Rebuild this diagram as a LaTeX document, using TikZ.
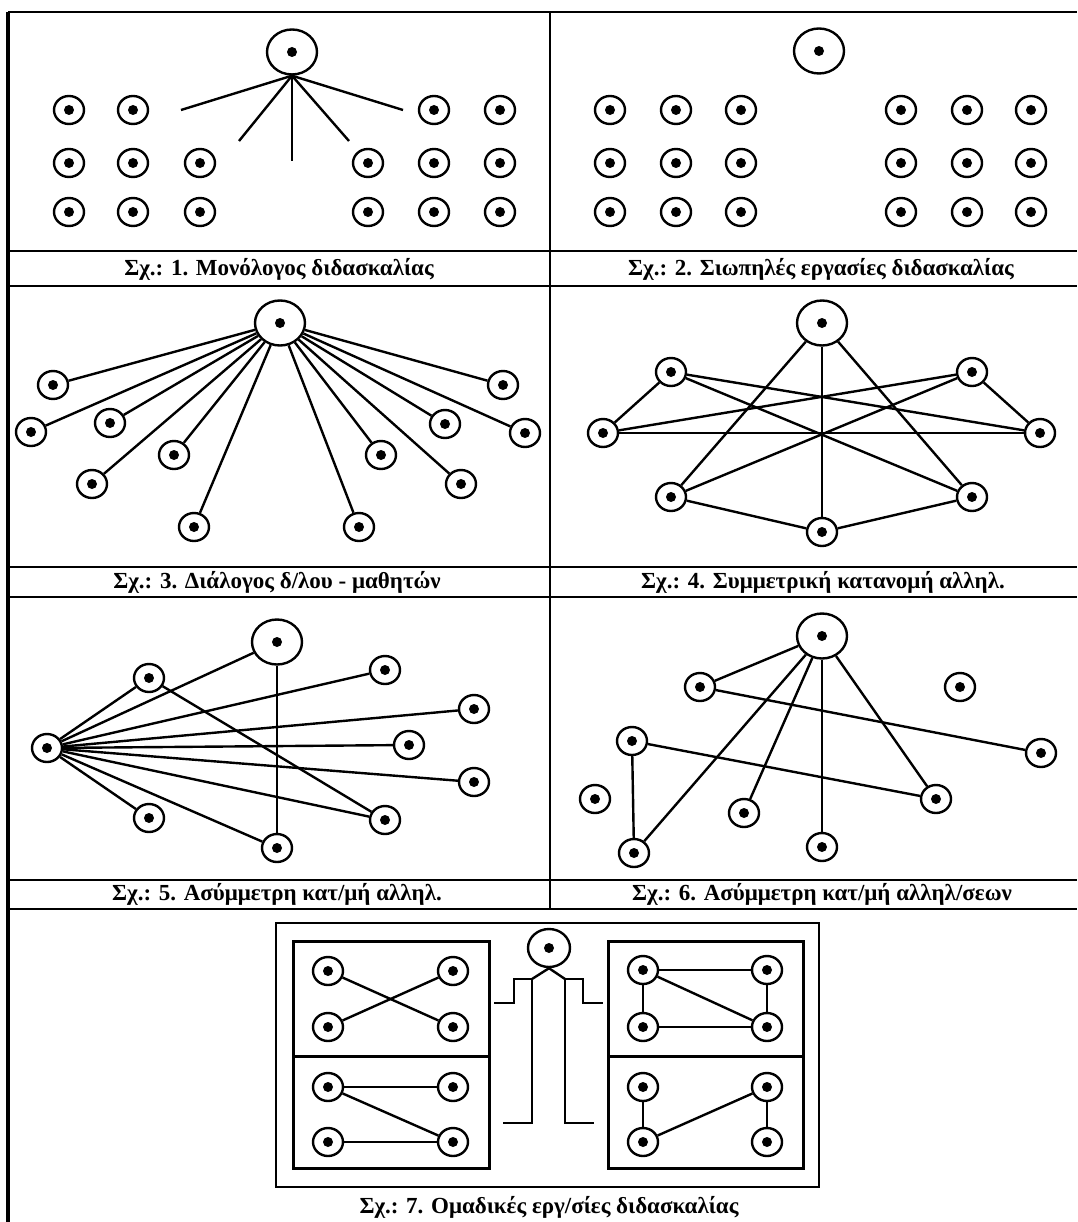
\documentclass[tikz,border=0pt]{standalone}
\usepackage{fontspec}
\setmainfont{Liberation Serif}
\usetikzlibrary{shapes.geometric}
\begin{document}
\begin{tikzpicture}[x=1pt,y=-1pt,
  stu/.style={ellipse,draw,line width=2.4pt,minimum width=30pt,minimum height=28pt,inner sep=0pt,
     path picture={\fill (path picture bounding box.center) circle (5pt);}},
  tch/.style={stu,minimum width=50pt,minimum height=45pt},
  tchs/.style={stu,minimum width=42pt,minimum height=38pt},
  conn/.style={line width=2.4pt},
  frameln/.style={line width=2.6pt},
  inbox/.style={line width=3pt},
  captext/.style={font=\bfseries\fontsize{23}{25}\selectfont,inner sep=0pt}
]
\useasboundingbox (0,0) rectangle (1077,1222);
% ---------- frame ----------
\draw[frameln] (8,12) -- (1077,12);
\draw[line width=4pt] (8,12) -- (8,1222);
\draw[frameln] (550,12) -- (550,909);
\foreach \yy in {251,286,567,597,880,909} \draw[frameln] (8,\yy) -- (1077,\yy);
% ---------- Fig 1 ----------
\node[tch] (f1t) at (292,52) {};
\foreach \x/\n in {69/a,133/b,434/e,500/f} \node[stu] (f1\n1) at (\x,110) {};
\foreach \x/\n in {69/a,133/b,200/c,368/d,434/e,500/f} {
  \node[stu] (f1\n2) at (\x,163) {};
  \node[stu] (f1\n3) at (\x,212) {};
}
\coordinate (f1e1) at (181,110);
\coordinate (f1e2) at (239,141);
\coordinate (f1e3) at (292,161);
\coordinate (f1e4) at (349,141);
\coordinate (f1e5) at (403,110);
\foreach \i in {1,...,5} \draw[conn] (f1t.south) -- (f1e\i);
\node[captext] (c1) at (279,269) {Σχ.: 1. Μονόλογος διδασκαλίας};
% ---------- Fig 2 ----------
\node[tch] (f2t) at (819,51) {};
\foreach \x/\n in {610/a,676/b,741/c,901/d,967/e,1031/f}
  \foreach \y/\m in {110/1,163/2,212/3} \node[stu] (f2\n\m) at (\x,\y) {};
\node[captext] (c2) at (821,269) {Σχ.: 2. Σιωπηλές εργασίες διδασκαλίας};
% ---------- Fig 3 ----------
\node[tch] (f3t) at (280,323) {};
\foreach \i/\x/\y in {1/53/385,2/31/432,3/110/423,4/92/484,5/174/455,6/194/527,
   7/503/385,8/525/433,9/445/424,10/461/484,11/381/455,12/359/527} {
  \node[stu] (f3s\i) at (\x,\y) {};
  \draw[conn] (f3t) -- (f3s\i);
}
\node[captext] (c3) at (277,582) {Σχ.: 3. Διάλογος δ/λου - μαθητών};
% ---------- Fig 4 ----------
\node[tch] (f4t) at (822,323) {};
\node[stu] (f4a) at (671,372) {};
\node[stu] (f4b) at (972,372) {};
\node[stu] (f4l) at (603,433) {};
\node[stu] (f4r) at (1040,433) {};
\node[stu] (f4c) at (671,497) {};
\node[stu] (f4d) at (972,497) {};
\node[stu] (f4e) at (822,532) {};
\foreach \p/\q in {t/c,t/e,t/d,a/l,a/r,a/d,b/r,b/l,b/c,l/r,c/e,d/e}
  \draw[conn] (f4\p) -- (f4\q);
\node[captext] (c4) at (823,582) {Σχ.: 4. Συμμετρική κατανομή αλληλ.};
% ---------- Fig 5 ----------
\node[tch] (f5tc) at (277,642) {};
\node[stu] (f5hb) at (47,748) {};
\foreach \n/\x/\y in {a/149/678,b/385/670,c/474/709,d/409/745,e/474/782,f/385/820,g/277/848,h/149/818}
  \node[stu] (f5\n) at (\x,\y) {};
\foreach \n in {tc,a,b,c,d,e,f,g,h} \draw[conn] (f5hb) -- (f5\n);
\draw[conn] (f5a) -- (f5f);
\draw[conn] (f5tc) -- (f5g);
\node[captext] (c5) at (277,894) {Σχ.: 5. Ασύμμετρη κατ/μή αλληλ.};
% ---------- Fig 6 ----------
\node[tch] (f6tc) at (822,636) {};
\foreach \n/\x/\y in {p/700/687,q/960/687,r/632/741,s/1041/753,t/595/799,u/744/813,v/936/799,w/634/853,x/822/847}
  \node[stu] (f6\n) at (\x,\y) {};
\foreach \p/\q in {tc/p,tc/w,tc/u,tc/x,tc/v,p/s,r/v,r/w} \draw[conn] (f6\p) -- (f6\q);
\node[captext] (c6) at (822,894) {Σχ.: 6. Ασύμμετρη κατ/μή αλληλ/σεων};
% ---------- Fig 7 ----------
\draw[frameln] (276,923) rectangle (819,1187);
\draw[inbox] (293,941) rectangle (489,1168);
\draw[inbox] (293,1056) -- (489,1056);
\draw[inbox] (608,941) rectangle (803,1168);
\draw[inbox] (608,1056) -- (803,1056);
\node[tchs] (f7t) at (549,948) {};
\coordinate (f7l1) at (532,979);
\coordinate (f7r1) at (565,979);
\draw[conn] (f7t.south) -- (f7l1);
\draw[conn] (f7t.south) -- (f7r1);
\draw[conn] (f7l1) -- (514,979) -- (514,1003) -- (494,1003);
\draw[conn] (f7l1) -- (532,1123) -- (503,1123);
\draw[conn] (f7r1) -- (583,979) -- (583,1003) -- (603,1003);
\draw[conn] (f7r1) -- (565,1123) -- (594,1123);
% left groups
\node[stu] (g1a) at (328,971) {};
\node[stu] (g1b) at (453,971) {};
\node[stu] (g1c) at (328,1027) {};
\node[stu] (g1d) at (453,1027) {};
\draw[conn] (g1a) -- (g1d);
\draw[conn] (g1c) -- (g1b);
\node[stu] (g2a) at (328,1087) {};
\node[stu] (g2b) at (453,1087) {};
\node[stu] (g2c) at (328,1142) {};
\node[stu] (g2d) at (453,1142) {};
\draw[conn] (g2a) -- (g2b);
\draw[conn] (g2a) -- (g2d);
\draw[conn] (g2c) -- (g2d);
% right groups
\node[stu] (g3a) at (643,970) {};
\node[stu] (g3b) at (767,970) {};
\node[stu] (g3c) at (643,1027) {};
\node[stu] (g3d) at (767,1027) {};
\foreach \p/\q in {a/b,a/d,a/c,c/d,b/d} \draw[conn] (g3\p) -- (g3\q);
\node[stu] (g4a) at (643,1087) {};
\node[stu] (g4b) at (767,1087) {};
\node[stu] (g4c) at (643,1142) {};
\node[stu] (g4d) at (767,1142) {};
\foreach \p/\q in {a/c,c/b,b/d} \draw[conn] (g4\p) -- (g4\q);
\node[captext] (c7) at (549,1207) {Σχ.: 7. Ομαδικές εργ/σίες διδασκαλίας};
\end{tikzpicture}
\end{document}
